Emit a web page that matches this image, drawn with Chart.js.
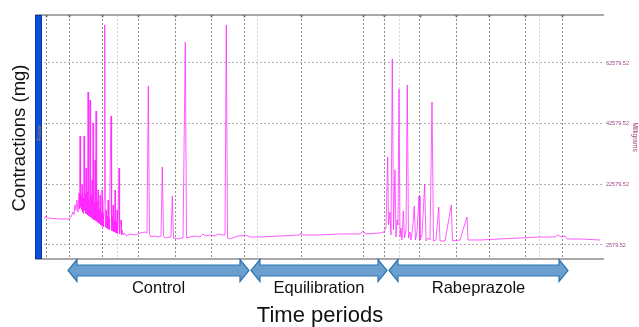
<!DOCTYPE html>
<html>
<head>
<meta charset="utf-8">
<script src="https://cdn.jsdelivr.net/npm/chart.js@4.4.1/dist/chart.umd.min.js"></script>
<style>
  html, body { margin: 0; padding: 0; background: #fff; }
  #wrap { width: 639px; height: 327px; }
</style>
</head>
<body>
<div id="wrap"><canvas id="trace"></canvas></div>
<script>
// recording time (arbitrary units along the trace) and force in mg
const timePoints = [0, 2, 3, 16, 25,
  27, 29, 30, 31, 32, 33, 34, 35, 35.5, 36,
  36.6, 37, 37.5, 38, 38.5, 39, 39.5, 40, 40.6, 41,
  41.5, 42, 42.6, 43, 43.5, 44, 44.6, 45, 45.5, 46,
  46.6, 47, 47.5, 48, 48.5, 49, 49.6, 50, 50.5, 51,
  51.5, 52, 52.6, 53, 53.5, 54, 54.5, 55, 55.5, 56,
  56.5, 57, 57.5, 58, 58.5, 59, 59.5, 60, 60.7, 61.4,
  62, 62.5, 63, 63.5, 64, 64.5, 65, 65.5, 66, 67,
  67.6, 68, 68.5, 69, 69.5, 70, 70.5, 71, 71.5, 72,
  72.5, 73, 73.5, 74, 75, 75.6, 76, 77, 77.5, 78,
  79, 80, 82,
  86, 91, 96, 101, 103, 104.3, 105.5, 107, 111, 114, 117, 118.3, 119.5, 121, 127, 128.3, 129.5, 134, 139, 141.3,
  142.5, 146, 151, 156, 159, 162, 166, 171, 174, 178, 181, 182.3, 183.5, 186, 191, 194, 198, 201, 206, 216,
  236, 256, 257, 259, 276, 296, 316, 319, 322, 336, 340, 342, 343.7, 344.5, 346, 347, 348.3, 349.5, 351, 352,
  353, 354, 355, 356, 357, 358, 359.3, 360.5, 362, 363.3, 364.5, 366, 367, 369, 370.3, 371.5, 373, 375, 376, 378,
  380.7, 382, 384, 386, 388, 389.5, 392, 394.7, 396, 401, 407.3, 408.5, 416, 423, 424, 436, 456, 476, 496, 511,
  514, 517, 521, 523, 536, 556];
const forceMg = [11150, 12140, 11480, 11150, 11150,
  11800, 13500, 12600, 15800, 14000, 17400, 13500, 19700, 14500, 38520,
  15000, 19000, 14200, 22500, 13400, 18000, 13000, 38520, 14000, 19500,
  13000, 27970, 12800, 20000, 12500, 53020, 12300, 17500, 12000, 50390,
  11800, 19000, 11500, 24010, 11200, 42800, 11000, 16500, 10800, 30600,
  10600, 46760, 10400, 17000, 10100, 20710, 9800, 14500, 9600, 19000,
  9300, 13500, 9000, 20710, 8800, 13000, 8600, 17420, 75110, 8400,
  14000, 8200, 12000, 8000, 17420, 7800, 11500, 7600, 24010, 45110,
  7400, 12000, 7200, 15770, 7000, 10500, 6900, 20710, 6700, 10000,
  6500, 14120, 6400, 8500, 27970, 6200, 9000, 10820, 6000, 7500,
  5900, 6540, 5550,
  6210, 5880, 6540, 6870, 6540, 55000, 6210, 5220, 5550, 5220, 5550, 28300, 5550, 4890, 5220, 18740, 4890, 4560, 4890, 69510,
  4890, 5220, 5550, 5220, 6210, 5550, 5880, 5550, 6210, 5880, 5880, 75110, 4890, 4560, 5220, 5550, 5550, 5880, 5220, 5220,
  5550, 5880, 6540, 5880, 5880, 6210, 6210, 7200, 6210, 6540, 6870, 8180, 31590, 9170, 13460, 5880, 63900, 7520, 27310, 5220,
  10820, 9170, 54010, 5220, 8180, 4230, 13790, 4890, 7520, 55330, 4890, 6870, 4230, 9170, 15440, 4230, 6870, 18740, 4230, 5880,
  22690, 3900, 4890, 4230, 49730, 3900, 4230, 15110, 3900, 3900, 15770, 3900, 4230, 11810, 4230, 4230, 4560, 4890, 5220, 5220,
  5880, 5220, 5550, 4560, 4560, 4230];

const yTicks = [2579.52, 22579.52, 42579.52, 62579.52];
const markerTimes = [2, 25, 58, 94, 131, 167, 200, 257, 319, 340, 376, 412, 445, 481, 518];
const eventTimes = [73, 213, 355, 495];

const periodNames = ['Control', 'Equilibration', 'Rabeprazole'];
const periodStart = [24, 207, 345];
const periodEnd = [205, 343, 524];

function drawArrow(ctx, x1, x2, y) {
  const head = 9, hh = 11, sh = 5.5;
  ctx.beginPath();
  ctx.moveTo(x1, y);
  ctx.lineTo(x1 + head, y - hh);
  ctx.lineTo(x1 + head, y - sh);
  ctx.lineTo(x2 - head, y - sh);
  ctx.lineTo(x2 - head, y - hh);
  ctx.lineTo(x2, y);
  ctx.lineTo(x2 - head, y + hh);
  ctx.lineTo(x2 - head, y + sh);
  ctx.lineTo(x1 + head, y + sh);
  ctx.lineTo(x1 + head, y + hh);
  ctx.closePath();
  ctx.fillStyle = '#6b9fcf';
  ctx.fill();
  ctx.strokeStyle = '#2e76b4';
  ctx.lineWidth = 1.2;
  ctx.stroke();
}

const decorations = {
  id: 'decorations',
  afterDraw(chart) {
    const ctx = chart.ctx;
    const area = chart.chartArea;
    const xs = chart.scales.x;
    ctx.save();

    // frame lines top and bottom
    ctx.strokeStyle = '#a9a9a9';
    ctx.lineWidth = 2;
    ctx.beginPath();
    ctx.moveTo(area.left - 9, area.top);
    ctx.lineTo(area.right, area.top);
    ctx.moveTo(area.left - 9, area.bottom);
    ctx.lineTo(area.right, area.bottom);
    ctx.stroke();

    // little markers on the top line
    ctx.fillStyle = '#808080';
    markerTimes.forEach(t => {
      const px = Math.round(xs.getPixelForValue(t)) + 0.5;
      ctx.beginPath();
      ctx.moveTo(px - 2, area.top);
      ctx.lineTo(px + 2, area.top);
      ctx.lineTo(px, area.top + 3);
      ctx.closePath();
      ctx.fill();
    });

    // channel bar
    ctx.fillStyle = '#0a50dc';
    ctx.fillRect(area.left - 9, area.top, 7, area.bottom - area.top);
    ctx.strokeStyle = '#0636a0';
    ctx.lineWidth = 1;
    ctx.strokeRect(area.left - 8.5, area.top + 0.5, 6, area.bottom - area.top - 1);

    ctx.save();
    ctx.translate(area.left - 5, 133);
    ctx.rotate(-Math.PI / 2);
    ctx.fillStyle = '#e07a3a';
    ctx.font = '6px "Liberation Sans"';
    ctx.textAlign = 'center';
    ctx.textBaseline = 'middle';
    ctx.fillText('Force', 0, 0);
    ctx.restore();

    // y title
    ctx.save();
    ctx.translate(20, 138);
    ctx.rotate(-Math.PI / 2);
    ctx.fillStyle = '#111';
    ctx.font = '18.5px "Liberation Sans"';
    ctx.textAlign = 'center';
    ctx.textBaseline = 'middle';
    ctx.fillText('Contractions (mg)', 0, 0);
    ctx.restore();

    // period arrows and names
    ctx.textAlign = 'center';
    ctx.textBaseline = 'middle';
    periodNames.forEach((name, i) => {
      const a = xs.getPixelForValue(periodStart[i]);
      const b = xs.getPixelForValue(periodEnd[i]);
      drawArrow(ctx, a, b, 270.5);
      ctx.fillStyle = '#111';
      ctx.font = '16.5px "Liberation Sans"';
      ctx.fillText(name, (a + b) / 2, 288);
    });

    ctx.font = '22px "Liberation Sans"';
    ctx.fillStyle = '#111';
    ctx.fillText('Time periods', 320, 316);
    ctx.restore();
  }
};

new Chart(document.getElementById('trace'), {
  type: 'line',
  data: {
    datasets: [{
      data: timePoints.map((t, i) => ({ x: t, y: forceMg[i] })),
      borderColor: 'rgba(255, 40, 255, 0.75)',
      borderWidth: 1,
      pointRadius: 0,
      tension: 0
    }]
  },
  options: {
    responsive: true,
    maintainAspectRatio: false,
    animation: false,
    layout: { padding: { left: 44, top: 15, bottom: 68, right: 0 } },
    plugins: { legend: { display: false }, tooltip: { enabled: false } },
    scales: {
      x: {
        type: 'linear',
        min: 0,
        max: 560,
        afterBuildTicks: s => { s.ticks = markerTimes.concat(eventTimes).map(v => ({ value: v })); },
        afterFit: s => { s.height = 0; },
        ticks: { display: false },
        grid: {
          drawTicks: false,
          lineWidth: 1,
          color: c => eventTimes.includes(c.tick && c.tick.value) ? '#d4d4d4' : '#8c8c8c'
        },
        border: { display: false, dash: [2, 2] }
      },
      y: {
        position: 'right',
        min: -2040,
        max: 78400,
        afterBuildTicks: s => { s.ticks = yTicks.map(v => ({ value: v })); },
        afterFit: s => { s.width = 35; },
        ticks: {
          padding: 2,
          color: '#a2478a',
          font: { size: 5.5, family: 'Liberation Sans' },
          callback: v => v.toFixed(2)
        },
        grid: { drawTicks: false, color: '#b0b0b0', lineWidth: 1 },
        border: { display: false, dash: [2, 2] },
        title: {
          display: true,
          text: 'Milligrams',
          color: '#9c3c78',
          font: { size: 6.5, family: 'Liberation Sans' },
          padding: { top: 0, bottom: 2 }
        }
      }
    }
  },
  plugins: [decorations]
});
</script>
</body>
</html>
